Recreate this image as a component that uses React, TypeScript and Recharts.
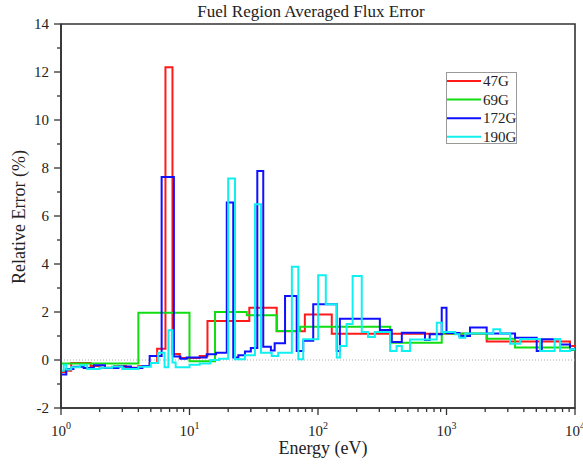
import { LineChart, Line, XAxis, YAxis, ReferenceLine, ReferenceArea } from 'recharts';

const SERIES_NAMES = ['47G', '69G', '172G', '190G'];
const SERIES_COLORS = ['#ff1a1a', '#11dd11', '#1010ff', '#11f0f0'];

// group lower edges (eV) and relative error (%), drawn as steps
const e47 = [1, 1.08, 1.2, 1.7, 2.0, 2.6, 3.2, 4.0, 4.9, 5.6, 6.5, 7.37, 8.4, 12, 13.8, 29.2, 47.7, 79, 128, 2055, 9140, 10000];
const v47 = [-0.5, -0.45, -0.12, -0.25, -0.32, -0.25, -0.32, -0.25, -0.12, 0.47, 12.2, 0.25, 0.08, 0.17, 1.63, 2.18, 1.2, 1.9, 1.09, 0.77, 0.58, 0.58];

const e69 = [1, 4.0, 10.0, 15.8, 27.9, 47.7, 72.4, 364, 918, 2055, 3415, 9140, 10000];
const v69 = [-0.15, 1.97, -0.05, 2.0, 1.86, 1.21, 1.39, 0.72, 1.1, 0.89, 0.52, 0.42, 0.42];

const e172 = [1, 1.1, 1.25, 1.5, 1.8, 2.2, 2.8, 3.5, 4.3, 4.9, 6.07, 7.56, 8.5, 9.5, 13.6, 16.1, 19.5, 21.9, 24, 27, 30, 33.7, 37.5, 43, 46, 55.4, 68.3, 76.7, 91.8, 140, 148, 303, 375, 449, 680, 740, 918, 1000, 1260, 1524, 2055, 3415, 5035, 5510, 7640, 9140, 10000];
const v172 = [-0.6, -0.38, -0.28, -0.33, -0.22, -0.33, -0.27, -0.33, -0.25, 0.17, 7.63, 0.15, 0.05, 0.1, 0.24, 0.3, 6.56, 0.1, 0.2, 0.35, 0.5, 7.88, 0.55, 0.4, 0.7, 2.67, 0.38, 0.8, 2.32, 0.37, 1.72, 1.25, 0.75, 1.14, 0.83, 1.07, 2.18, 1.12, 1.0, 1.35, 1.1, 0.93, 0.37, 0.86, 0.65, 0.45, 0.45];

const e190 = [1, 1.05, 1.1, 1.2, 1.4, 1.6, 2.0, 2.5, 3.0, 4.0, 5.0, 5.7, 6.4, 6.85, 7.37, 7.8, 10, 12, 14.5, 17, 20, 22.6, 27, 32.3, 36, 43.6, 49, 62.6, 70.3, 76.7, 100.3, 115, 140, 148, 167, 186, 219, 245, 277, 364, 409, 449, 520, 840, 918, 1170, 1260, 1400, 2313, 2607, 3125, 3740, 5340, 6940, 7640, 9140, 10000];
const v190 = [-0.45, -0.2, -0.4, -0.3, -0.22, -0.37, -0.32, -0.27, -0.37, -0.28, -0.12, 0.3, -0.3, 1.24, -0.1, -0.3, -0.2, -0.15, 0.0, 0.05, 7.56, 0.03, 0.2, 6.49, 0.3, 0.17, 0.3, 3.89, 0.03, 0.86, 3.53, 2.32, 0.1, 0.58, 1.5, 3.5, 1.17, 0.96, 1.17, 0.37, 0.58, 0.37, 0.85, 1.55, 1.17, 1.07, 0.93, 1.1, 1.28, 1.1, 0.68, 0.88, 0.37, 0.88, 0.37, 0.45, 0.45];

const X_TICKS = [1, 2, 3, 4, 5, 6, 7, 8, 9, 10, 20, 30, 40, 50, 60, 70, 80, 90, 100, 200, 300, 400, 500, 600, 700, 800, 900, 1000, 2000, 3000, 4000, 5000, 6000, 7000, 8000, 9000, 10000];
const Y_TICKS = [-2, -1, 0, 1, 2, 3, 4, 5, 6, 7, 8, 9, 10, 11, 12, 13, 14];

const FONT = '"Liberation Serif", "DejaVu Serif", serif';

const toRows = (e: number[], v: number[]) => e.map((x, i) => ({ e: x, v: v[i] }));
const series = [
  toRows(e47, v47),
  toRows(e69, v69),
  toRows(e172, v172),
  toRows(e190, v190),
];

function XTick({ x, y, payload }: any) {
  const lg = Math.log10(payload.value);
  const exp = Math.round(lg);
  const major = Math.abs(lg - exp) < 1e-6;
  return (
    <g>
      <line x1={x} x2={x} y1={y} y2={y + (major ? 7 : 4)} stroke="#333" strokeWidth={1.3} />
      {major && (
        <text x={x} y={y + 28} textAnchor="middle" fontFamily={FONT} fontSize={15} fill="#222">
          10<tspan dy={-7} fontSize={10}>{exp}</tspan>
        </text>
      )}
    </g>
  );
}

function YTick({ x, y, payload }: any) {
  const major = payload.value % 2 === 0;
  return (
    <g>
      <line x1={x} x2={x - (major ? 7 : 4)} y1={y} y2={y} stroke="#333" strokeWidth={1.3} />
      {major && (
        <text x={x - 12} y={y + 5} textAnchor="end" fontFamily={FONT} fontSize={15} fill="#222">
          {payload.value}
        </text>
      )}
    </g>
  );
}

export default function App() {
  return (
    <div style={{ position: 'absolute', left: 0, top: 0, width: 583, height: 464, background: '#fff' }}>
      <LineChart width={583} height={464} margin={{ top: 24, right: 8, bottom: 0, left: 0 }}>
        <XAxis
          dataKey="e"
          type="number"
          scale="log"
          domain={[1, 10000]}
          allowDataOverflow
          ticks={X_TICKS}
          interval={0}
          tickSize={0}
          tickMargin={0}
          tick={XTick}
          tickLine={false}
          axisLine={{ stroke: '#333', strokeWidth: 1.6 }}
          height={56}
          label={() => (
            <text x={323} y={454} textAnchor="middle" fontFamily={FONT} fontSize={18} fill="#222">
              Energy (eV)
            </text>
          )}
        />
        <YAxis
          type="number"
          domain={[-2, 14]}
          allowDataOverflow
          ticks={Y_TICKS}
          interval={0}
          tickSize={0}
          tickMargin={0}
          tick={YTick}
          tickLine={false}
          axisLine={{ stroke: '#333', strokeWidth: 1.6 }}
          width={61}
          label={() => (
            <text
              x={25}
              y={217}
              transform="rotate(-90 25 217)"
              textAnchor="middle"
              fontFamily={FONT}
              fontSize={18}
              fill="#222"
            >
              Relative Error (%)
            </text>
          )}
        />
        <ReferenceLine y={0} stroke="#aaa" strokeDasharray="1 2" />
        {series.map((rows, i) => (
          <Line
            key={SERIES_NAMES[i]}
            data={rows}
            dataKey="v"
            name={SERIES_NAMES[i]}
            type="stepAfter"
            stroke={SERIES_COLORS[i]}
            strokeWidth={2}
            dot={false}
            isAnimationActive={false}
          />
        ))}
        <ReferenceArea x1={1} x2={10000} y1={-2} y2={14} fill="none" stroke="#333" strokeWidth={1.6} ifOverflow="visible" />
      </LineChart>
      <svg width={583} height={24} style={{ position: 'absolute', left: 0, top: 0 }}>
        <text x={311} y={17} textAnchor="middle" fontFamily={FONT} fontSize={17} fill="#222">
          Fuel Region Averaged Flux Error
        </text>
      </svg>
      <svg width={72} height={73} style={{ position: 'absolute', left: 446, top: 72 }}>
        <rect x={0.5} y={0.5} width={70} height={71} fill="#fff" stroke="#999" />
        {SERIES_NAMES.map((n, i) => (
          <g key={n}>
            <line x1={1} x2={35} y1={9 + i * 18.6} y2={9 + i * 18.6} stroke={SERIES_COLORS[i]} strokeWidth={2} />
            <text x={37} y={14 + i * 18.6} fontFamily={FONT} fontSize={15} fill="#222">
              {n}
            </text>
          </g>
        ))}
      </svg>
    </div>
  );
}
